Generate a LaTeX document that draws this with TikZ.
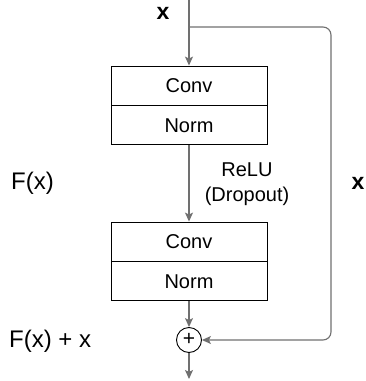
\documentclass[tikz,border=0pt]{standalone}
\usepackage{fontspec}
\setmainfont{Liberation Sans}
\usepackage{xcolor}
\usetikzlibrary{positioning,arrows.meta}

\definecolor{linegray}{HTML}{707070}

\begin{document}
\begin{tikzpicture}[
  x=1pt, y=-1pt,
  layer/.style={
    draw,
    line width=0.9pt,
    minimum width=156pt,
    minimum height=39pt,
    inner sep=0pt,
    font=\fontsize{20}{24}\selectfont
  },
  arrow/.style={-{Stealth[length=9pt, width=8pt, inset=2pt]}, linegray, line width=1.1pt},
  lab/.style={font=\fontsize{24}{28}\selectfont},
  xlab/.style={font=\fontsize{23}{27}\selectfont\bfseries}
]
  \useasboundingbox (0,0) rectangle (366,381);

  \node[layer] (conv1) at (189,85.5) {Conv};
  \node[layer, below=0pt of conv1] (norm1) {Norm};
  \node[layer] (conv2) at (189,241.5) {Conv};
  \node[layer, below=0pt of conv2] (norm2) {Norm};

  \node[draw, circle, line width=0.9pt, minimum size=25pt, inner sep=0pt,
        font=\fontsize{21}{21}\selectfont] (plus) at (189,340) {\raisebox{1pt}{+}};

  \coordinate (in) at (189,0);
  \coordinate (split) at (189,27);
  \coordinate (rx) at (331,27);
  \coordinate (out) at (189,379);

  \draw[arrow] (in) -- (conv1);
  \draw[arrow] (norm1) -- (conv2);
  \draw[arrow] (norm2) -- (plus);
  \draw[arrow] (plus) -- (out);
  \draw[arrow, rounded corners=8pt] (split) -- (rx) -- (rx |- plus) -- (plus);

  \node[xlab] (xtop) at (163,13) {x};
  \node[xlab] (xright) at (358,183) {x};
  \node[align=center, font=\fontsize{20}{25}\selectfont] (relu) at (247,184) {ReLU\\(Dropout)};
  \node[lab, anchor=west, inner sep=0pt] (fx) at (11,183) {F(x)};
  \node[lab, anchor=west, inner sep=0pt] (fxx) at (9,341) {F(x) + x};
\end{tikzpicture}
\end{document}
